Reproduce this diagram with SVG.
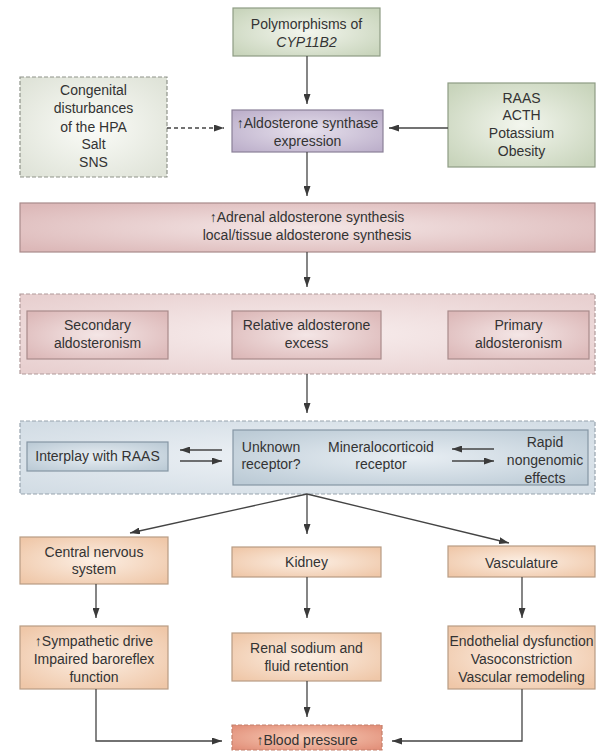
<svg xmlns="http://www.w3.org/2000/svg" width="597" height="751" viewBox="0 0 597 751">
<defs>
<radialGradient id="gGreen" cx="50%" cy="50%" r="65%"><stop offset="0" stop-color="#f3f6ee"/><stop offset="1" stop-color="#c8d4bb"/></radialGradient>
<radialGradient id="gGrey" cx="50%" cy="50%" r="65%"><stop offset="0" stop-color="#fbfcf8"/><stop offset="1" stop-color="#dfe3d8"/></radialGradient>
<radialGradient id="gPurple" cx="50%" cy="50%" r="65%"><stop offset="0" stop-color="#e6e0ec"/><stop offset="1" stop-color="#bdb0cb"/></radialGradient>
<radialGradient id="gPink" cx="50%" cy="50%" r="65%"><stop offset="0" stop-color="#f4e6e6"/><stop offset="1" stop-color="#dcb8b8"/></radialGradient>
<radialGradient id="gPinkLight" cx="50%" cy="50%" r="65%"><stop offset="0" stop-color="#f8eeee"/><stop offset="1" stop-color="#e8d0d0"/></radialGradient>
<radialGradient id="gBlue" cx="50%" cy="50%" r="65%"><stop offset="0" stop-color="#e8eef3"/><stop offset="1" stop-color="#bccbd6"/></radialGradient>
<radialGradient id="gBlueLight" cx="50%" cy="50%" r="65%"><stop offset="0" stop-color="#eef2f6"/><stop offset="1" stop-color="#d3dde5"/></radialGradient>
<radialGradient id="gOrange" cx="50%" cy="50%" r="65%"><stop offset="0" stop-color="#fcefe4"/><stop offset="1" stop-color="#efc7a8"/></radialGradient>
<radialGradient id="gRed" cx="50%" cy="50%" r="65%"><stop offset="0" stop-color="#f8cdb8"/><stop offset="1" stop-color="#e2907a"/></radialGradient>
<marker id="ah" markerUnits="userSpaceOnUse" markerWidth="10" markerHeight="7" refX="10" refY="3.5" orient="auto"><path d="M0,0 L10,3.5 L0,7 z" fill="#3a3a3a"/></marker>
</defs>
<style>
text{font-family:"Liberation Sans Narrow","Liberation Sans",Arial,sans-serif;font-size:14px;fill:#333;text-anchor:middle}
.it{font-style:italic}
.green{fill:url(#gGreen);stroke:#8e9c84;stroke-width:1.2}
.grey{fill:url(#gGrey);stroke:#8f938a;stroke-width:1.2;stroke-dasharray:4 2}
.purple{fill:url(#gPurple);stroke:#8a8098;stroke-width:1.2}
.pink{fill:url(#gPink);stroke:#a88a8a;stroke-width:1.2}
.pinkd{fill:url(#gPinkLight);stroke:#b09a9a;stroke-width:1.2;stroke-dasharray:4 2}
.blue{fill:url(#gBlue);stroke:#8596a4;stroke-width:1.2}
.blued{fill:url(#gBlueLight);stroke:#98a4ae;stroke-width:1.2;stroke-dasharray:4 2}
.orange{fill:url(#gOrange);stroke:#b89c84;stroke-width:1.2}
.red{fill:url(#gRed);stroke:#c4806c;stroke-width:1.2;stroke-dasharray:4 2}
.c{fill:none;stroke:#444;stroke-width:1.3;marker-end:url(#ah)}
.dash{stroke-dasharray:4 3}
</style>
<g id="polymorphisms"><rect class="green" x="233" y="8" width="147" height="48"/><text x="306.5" y="29">Polymorphisms of</text><text class="it" x="306.5" y="47">CYP11B2</text></g>
<g id="congenital"><rect class="grey" x="20" y="77" width="147" height="100"/><text x="93.5" y="95">Congenital</text><text x="93.5" y="113">disturbances</text><text x="93.5" y="132">of the HPA</text><text x="93.5" y="149">Salt</text><text x="93.5" y="167">SNS</text></g>
<g id="synthase"><rect class="purple" x="232" y="110" width="151" height="42"/><text x="307.5" y="128">↑Aldosterone synthase</text><text x="307.5" y="146">expression</text></g>
<g id="raas"><rect class="green" x="448" y="83" width="147" height="84"/><text x="521.5" y="103">RAAS</text><text x="521.5" y="120">ACTH</text><text x="521.5" y="138">Potassium</text><text x="521.5" y="156">Obesity</text></g>
<g id="adrenal"><rect class="pink" x="20" y="203" width="575" height="49"/><text x="307" y="222">↑Adrenal aldosterone synthesis</text><text x="307" y="240">local/tissue aldosterone synthesis</text></g>
<g id="excess-group"><rect class="pinkd" x="20" y="294" width="575" height="80"/>
<g id="secondary"><rect class="pink" x="27" y="311" width="141" height="48"/><text x="97.5" y="330">Secondary</text><text x="97.5" y="348">aldosteronism</text></g>
<g id="relative"><rect class="pink" x="232" y="311" width="149" height="48"/><text x="306.5" y="330">Relative aldosterone</text><text x="306.5" y="348">excess</text></g>
<g id="primary"><rect class="pink" x="448" y="311" width="141" height="48"/><text x="518.5" y="330">Primary</text><text x="518.5" y="348">aldosteronism</text></g>
</g>
<g id="receptor-group"><rect class="blued" x="20" y="421" width="575" height="73"/>
<g id="interplay"><rect class="blue" x="27" y="442" width="141" height="29"/><text x="97.5" y="461">Interplay with RAAS</text></g>
<g id="receptors"><rect class="blue" x="233" y="430" width="355" height="55"/><text x="271" y="452">Unknown</text><text x="271" y="469">receptor?</text><text x="381" y="452">Mineralocorticoid</text><text x="381" y="469">receptor</text><text x="545" y="447">Rapid</text><text x="545" y="465">nongenomic</text><text x="545" y="483">effects</text></g>
</g>
<g id="cns"><rect class="orange" x="20" y="537" width="148" height="47"/><text x="94" y="557">Central nervous</text><text x="94" y="574">system</text></g>
<g id="kidney"><rect class="orange" x="232" y="547" width="149" height="30"/><text x="306.5" y="567">Kidney</text></g>
<g id="vasculature"><rect class="orange" x="448" y="546" width="147" height="31"/><text x="521.5" y="568">Vasculature</text></g>
<g id="sympathetic"><rect class="orange" x="20" y="626" width="148" height="63"/><text x="94" y="646">↑Sympathetic drive</text><text x="94" y="664">Impaired baroreflex</text><text x="94" y="682">function</text></g>
<g id="renal"><rect class="orange" x="232" y="633" width="149" height="48"/><text x="306.5" y="653">Renal sodium and</text><text x="306.5" y="671">fluid retention</text></g>
<g id="endothelial"><rect class="orange" x="448" y="626" width="147" height="63"/><text x="521.5" y="646">Endothelial dysfunction</text><text x="521.5" y="664">Vasoconstriction</text><text x="521.5" y="682">Vascular remodeling</text></g>
<g id="bloodpressure"><rect class="red" x="232" y="725" width="150" height="25"/><text x="307" y="745">↑Blood pressure</text></g>
<g id="connectors">
<line class="c" x1="307" y1="56" x2="307" y2="104"/>
<line class="c dash" x1="167" y1="128" x2="224" y2="128"/>
<line class="c" x1="448" y1="128" x2="389" y2="128"/>
<line class="c" x1="307" y1="152" x2="307" y2="196"/>
<line class="c" x1="307" y1="252" x2="307" y2="287"/>
<line class="c" x1="307" y1="374" x2="307" y2="413"/>
<line class="c" x1="222" y1="450" x2="180" y2="450"/>
<line class="c" x1="180" y1="461" x2="222" y2="461"/>
<line class="c" x1="494" y1="449" x2="452" y2="449"/>
<line class="c" x1="452" y1="461" x2="494" y2="461"/>
<line class="c" x1="307" y1="494" x2="130" y2="533"/>
<line class="c" x1="307" y1="494" x2="307" y2="534"/>
<line class="c" x1="307" y1="494" x2="509" y2="543"/>
<line class="c" x1="96" y1="584" x2="96" y2="618"/>
<line class="c" x1="307" y1="577" x2="307" y2="618"/>
<line class="c" x1="522" y1="577" x2="522" y2="618"/>
<line class="c" x1="307" y1="681" x2="307" y2="717"/>
<polyline class="c" points="96,689 96,741 222,741"/>
<polyline class="c" points="522,689 522,741 392,741"/>
</g>
</svg>
